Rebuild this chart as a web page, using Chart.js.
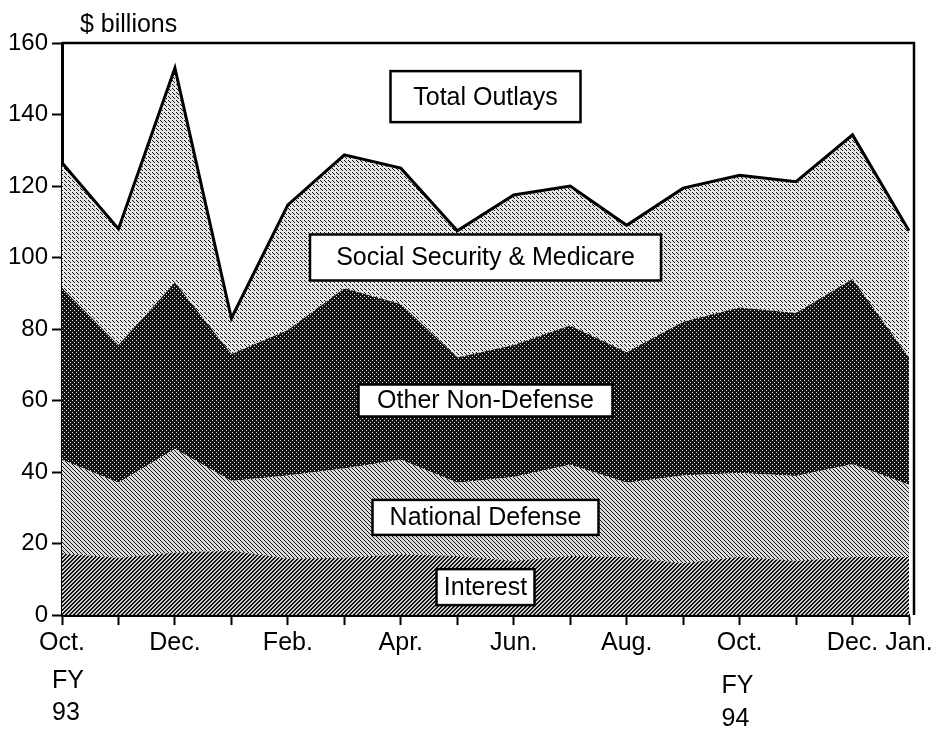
<!DOCTYPE html>
<html>
<head>
<meta charset="utf-8">
<script src="https://cdn.jsdelivr.net/npm/chart.js@4"></script>
<style>
    html, body { margin: 0; padding: 0; background: #fff; }
    #wrap { width: 938px; height: 751px; position: relative; }
</style>
</head>
<body>
<div id="wrap"><canvas id="outlaysChart"></canvas></div>
<script>
// Monthly outlays, Oct. FY93 .. Jan. FY94 ($ billions)
const months = ['Oct.', '', 'Dec.', '', 'Feb.', '', 'Apr.', '', 'Jun.', '', 'Aug.', '', 'Oct.', '', 'Dec.', 'Jan.'];
const interest = [17.2, 16, 17.5, 18, 15.8, 16, 17, 16.5, 15.2, 16.5, 16.2, 14.5, 16.3, 15.2, 16.2, 16.2];
const nationalDefense = [26.2, 21, 28.9, 19.5, 23.2, 25, 26.4, 20.5, 23.4, 25.5, 20.8, 24.5, 23.4, 23.7, 26, 20.2];
const otherNonDefense = [48.1, 38.5, 46.6, 35.5, 40.7, 50.4, 43.6, 35, 36.9, 39, 36.5, 43, 46.3, 45.6, 51.8, 35.6];
const socialSecurity = [35, 32.5, 60, 10, 35, 37.3, 38, 35.5, 42, 39, 35.5, 37.4, 37, 36.7, 40.3, 35.5];
const yTicks = [0, 20, 40, 60, 80, 100, 120, 140, 160];

// series labels drawn in boxes: [text, y value of box centre, box w, box h]
const boxLabels = [
    ['Total Outlays', 145, 190, 51],
    ['Social Security & Medicare', 100, 351, 46],
    ['Other Non-Defense', 60, 254, 32],
    ['National Defense', 27.3, 226, 35],
    ['Interest', 7.8, 98, 36]
];

const FONT = '"Liberation Sans", Arial, Helvetica, sans-serif';

// stipple / hatch fills like the printed original
function makePattern(bg, ink, pixels, size) {
    const c = document.createElement('canvas');
    c.width = size; c.height = size;
    const g = c.getContext('2d');
    g.fillStyle = bg;
    g.fillRect(0, 0, size, size);
    g.fillStyle = ink;
    pixels.forEach(p => g.fillRect(p[0], p[1], 1, 1));
    return g.createPattern(c, 'repeat');
}

const interestFill = makePattern('#cfcfcf', '#111', [[0, 3], [1, 2], [2, 1], [3, 0], [0, 0], [1, 3], [2, 2], [3, 1]], 4);
const defenseFill = makePattern('#dcdcdc', '#111', [[0, 0], [2, 2], [1, 1], [3, 3]], 4);
const otherFill = makePattern('#141414', '#dcdcdc', [[0, 0], [2, 2]], 4);
const ssFill = makePattern('#e6e6e6', '#111', [[0, 0], [2, 2], [1, 1]], 4);

const extras = {
    id: 'extras',
    afterDatasetsDraw(chart) {
        const ctx = chart.ctx;
        const area = chart.chartArea;
        const x = chart.scales.x;
        const y = chart.scales.y;

        // frame top and right
        ctx.save();
        ctx.strokeStyle = '#000';
        ctx.lineWidth = 2.5;
        ctx.beginPath();
        ctx.moveTo(area.left, area.top);
        ctx.lineTo(area.right + 5, area.top);
        ctx.lineTo(area.right + 5, area.bottom);
        ctx.stroke();

        // label boxes
        const cx = (x.getPixelForValue(7) + x.getPixelForValue(8)) / 2;
        ctx.font = '25px ' + FONT;
        ctx.textAlign = 'center';
        ctx.textBaseline = 'middle';
        boxLabels.forEach(b => {
            const cy = y.getPixelForValue(b[1]);
            ctx.fillStyle = '#fff';
            ctx.fillRect(cx - b[2] / 2, cy - b[3] / 2, b[2], b[3]);
            ctx.lineWidth = 2.5;
            ctx.strokeStyle = '#000';
            ctx.strokeRect(cx - b[2] / 2, cy - b[3] / 2, b[2], b[3]);
            ctx.fillStyle = '#000';
            ctx.fillText(b[0], cx, cy + 1);
        });

        // unit and fiscal year notes
        ctx.textAlign = 'left';
        ctx.textBaseline = 'alphabetic';
        ctx.font = '25px ' + FONT;
        ctx.fillText('$ billions', area.left + 18, area.top - 11);
        const fy93 = x.getPixelForValue(0) - 10;
        const fy94 = x.getPixelForValue(12) - 18;
        ctx.fillText('FY', fy93, 688);
        ctx.fillText('93', fy93, 720);
        ctx.fillText('FY', fy94, 693);
        ctx.fillText('94', fy94, 726);
        ctx.restore();
    }
};

function layer(label, data, fill, bg) {
    return {
        label: label,
        data: data,
        fill: fill,
        backgroundColor: bg,
        borderWidth: 0,
        pointRadius: 0,
        tension: 0
    };
}

const datasets = [
    layer('Interest', interest, 'origin', interestFill),
    layer('National Defense', nationalDefense, '-1', defenseFill),
    layer('Other Non-Defense', otherNonDefense, '-1', otherFill),
    layer('Social Security & Medicare', socialSecurity, '-1', ssFill)
];
datasets[3].borderColor = '#000';
datasets[3].borderWidth = 3;

new Chart(document.getElementById('outlaysChart'), {
    type: 'line',
    data: { labels: months, datasets: datasets },
    plugins: [extras],
    options: {
        responsive: true,
        maintainAspectRatio: false,
        animation: false,
        layout: { padding: { left: 0, top: 43, right: 29, bottom: 0 } },
        plugins: { legend: { display: false }, tooltip: { enabled: false } },
        scales: {
            x: {
                offset: false,
                grid: { drawOnChartArea: false, drawTicks: true, tickLength: 10, tickWidth: 2, tickColor: '#000' },
                border: { display: true, color: '#000', width: 3 },
                ticks: { autoSkip: false, maxRotation: 0, padding: 3, color: '#000', font: { family: FONT, size: 25 } },
                afterFit: s => { s.height = 136; }
            },
            y: {
                stacked: true,
                min: 0,
                max: 160,
                afterBuildTicks: s => { s.ticks = yTicks.map(v => ({ value: v })); },
                grid: { drawOnChartArea: false, drawTicks: true, tickLength: 10, tickWidth: 2, tickColor: '#000' },
                border: { display: true, color: '#000', width: 3 },
                ticks: { padding: 4, color: '#000', font: { family: FONT, size: 24 } },
                afterFit: s => { s.width = 62; }
            }
        }
    }
});
</script>
</body>
</html>
